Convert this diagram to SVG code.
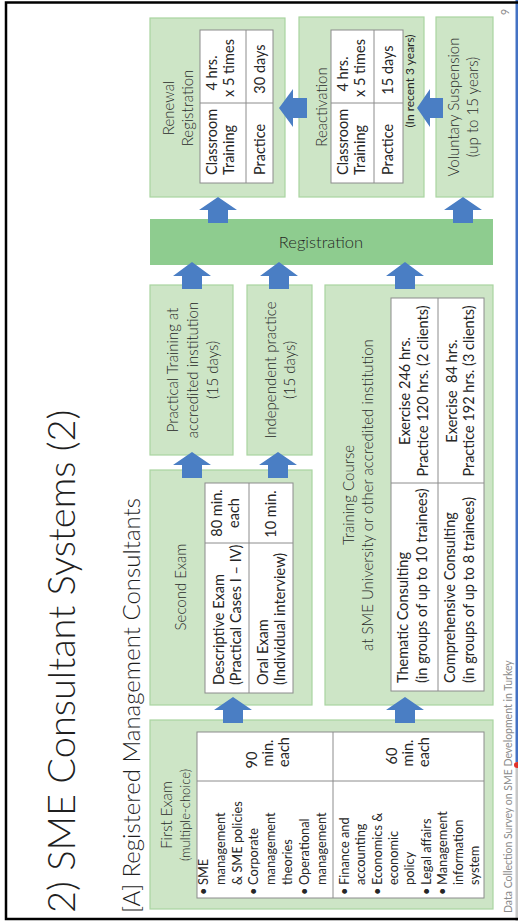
<svg xmlns="http://www.w3.org/2000/svg" width="518" height="921" viewBox="0 0 518 921">
  <style>
    .box { fill: #CDE5C6; stroke: #A9D4A0; stroke-width: 1.2; }
    .bar { fill: #8ECC8F; }
    .cell { fill: #FFFFFF; stroke: #8C8C8C; stroke-width: 1; }
    .rule { stroke: #8C8C8C; stroke-width: 1; fill: none; }
    .arrow { fill: #4A7EC4; }
    text { font-family: Lato, "Open Sans", "Liberation Sans", sans-serif; fill: #262626; }
    .title { font-size: 38px; font-weight: 300; fill: #1F1F1F; }
    .sub { font-size: 24px; font-weight: 300; fill: #1F1F1F; }
    .hd { font-size: 15px; font-weight: 300; fill: #2A2A2A; }
    .hds { font-size: 13px; font-weight: 300; fill: #2A2A2A; }
    .reg { font-size: 16.5px; font-weight: 300; fill: #262626; text-anchor: middle; }
    .tb { font-size: 14.5px; }
    .bl { font-size: 12.8px; }
    .sm { font-size: 12px; }
    .mid { text-anchor: middle; }
    .foot { font-size: 10.5px; fill: #8B8B8B; }
  </style>

  <rect width="518" height="921" fill="#FFFFFF"/>

  <!-- slide drawn in landscape coordinates, turned a quarter-turn -->
  <g transform="matrix(0,-1,1,0,0,921)">
    <text class="title" x="8" y="75">2) SME Consultant Systems (2)</text>
    <text class="sub" x="8" y="140">[A] Registered Management Consultants</text>

    <!-- First exam -->
    <g id="first-exam">
      <rect class="box" x="12" y="150" width="189" height="343"/>
      <text class="hd mid" x="106" y="172">First Exam</text>
      <text class="hds mid" x="106" y="190">(multiple-choice)</text>
      <rect class="cell" x="23" y="197" width="166" height="287"/>
      <path class="rule" d="M140,197 V484 M23,333 H189"/>
      <g class="bl">
        <text x="26" y="208">•</text><text x="36" y="208">SME</text>
        <text x="36" y="224.8">management</text>
        <text x="36" y="241.6">&amp; SME policies</text>
        <text x="26" y="258.4">•</text><text x="36" y="258.4">Corporate</text>
        <text x="36" y="275.2">management</text>
        <text x="36" y="292">theories</text>
        <text x="26" y="308.8">•</text><text x="36" y="308.8">Operational</text>
        <text x="36" y="325.6">management</text>

        <text x="26" y="349">•</text><text x="36" y="349">Finance and</text>
        <text x="36" y="365.3">accounting</text>
        <text x="26" y="381.6">•</text><text x="36" y="381.6">Economics &amp;</text>
        <text x="36" y="397.9">economic</text>
        <text x="36" y="414.2">policy</text>
        <text x="26" y="430.5">•</text><text x="36" y="430.5">Legal affairs</text>
        <text x="26" y="446.8">•</text><text x="36" y="446.8">Management</text>
        <text x="36" y="463.1">information</text>
        <text x="36" y="479.4">system</text>
      </g>
      <g class="tb mid">
        <text x="161" y="257">90</text>
        <text x="168" y="273">min.</text>
        <text x="169" y="289">each</text>
        <text x="165" y="397">60</text>
        <text x="168" y="413">min.</text>
        <text x="169" y="429">each</text>
      </g>
    </g>

    <!-- Second exam -->
    <g id="second-exam">
      <rect class="box" x="216" y="150" width="235" height="162"/>
      <text class="hd mid" x="334" y="186">Second Exam</text>
      <rect class="cell" x="228" y="205" width="210" height="88"/>
      <path class="rule" d="M378,205 V293 M228,249 H438"/>
      <g class="tb">
        <text x="236" y="224">Descriptive Exam</text>
        <text x="236" y="241">(Practical Cases I – IV)</text>
        <text x="236" y="268">Oral Exam</text>
        <text x="236" y="285">(Individual interview)</text>
      </g>
      <g class="tb mid">
        <text x="408" y="222">80 min.</text>
        <text x="408" y="239">each</text>
        <text x="407" y="276">10 min.</text>
      </g>
    </g>

    <!-- Training course -->
    <g id="training-course">
      <rect class="box" x="216" y="325" width="420" height="168"/>
      <text class="hd mid" x="426" y="354">Training Course</text>
      <text class="hd mid" x="426" y="373">at SME University or other accredited institution</text>
      <rect class="cell" x="230" y="391" width="393" height="93"/>
      <path class="rule" d="M438,391 V484 M230,438 H623"/>
      <g class="tb">
        <text x="238" y="408">Thematic Consulting</text>
        <text x="238" y="427">(in groups of up to 10 trainees)</text>
        <text x="238" y="455">Comprehensive Consulting</text>
        <text x="238" y="474">(in groups of up to 8 trainees)</text>
      </g>
      <g class="tb mid">
        <text x="530" y="410">Exercise 246 hrs.</text>
        <text x="530" y="428">Practice 120 hrs. (2 clients)</text>
        <text x="530" y="457" xml:space="preserve">Exercise  84 hrs.</text>
        <text x="530" y="474">Practice 192 hrs. (3 clients)</text>
      </g>
    </g>

    <!-- Practical training -->
    <g id="practical-training">
      <rect class="box" x="466" y="150" width="170" height="83"/>
      <g class="hd mid">
        <text x="551" y="178">Practical Training at</text>
        <text x="551" y="198">accredited institution</text>
        <text x="551" y="218">(15 days)</text>
      </g>
    </g>

    <!-- Independent practice -->
    <g id="independent-practice">
      <rect class="box" x="466" y="247" width="170" height="65"/>
      <g class="hd mid">
        <text x="551" y="276">Independent practice</text>
        <text x="551" y="295">(15 days)</text>
      </g>
    </g>

    <!-- Registration bar (its label is set upright, below) -->
    <g id="registration">
      <rect class="bar" x="656" y="150" width="46" height="343"/>
    </g>

    <!-- Renewal registration -->
    <g id="renewal">
      <rect class="box" x="724" y="150" width="179" height="135"/>
      <text class="hd mid" x="813" y="174">Renewal</text>
      <text class="hd mid" x="813" y="193">Registration</text>
      <rect class="cell" x="738" y="200" width="153" height="73"/>
      <path class="rule" d="M818,200 V273 M738,246 H891"/>
      <g class="tb">
        <text x="746" y="217">Classroom</text>
        <text x="746" y="234">Training</text>
        <text x="746" y="265">Practice</text>
      </g>
      <g class="tb mid">
        <text x="848" y="217">4 hrs.</text>
        <text x="853" y="234">x 5 times</text>
        <text x="852" y="265">30 days</text>
      </g>
    </g>

    <!-- Reactivation -->
    <g id="reactivation">
      <rect class="box" x="724" y="299" width="180" height="125"/>
      <text class="hd mid" x="814" y="327">Reactivation</text>
      <rect class="cell" x="738" y="331" width="153" height="72"/>
      <path class="rule" d="M818,331 V403 M738,374 H891"/>
      <g class="tb">
        <text x="746" y="348">Classroom</text>
        <text x="746" y="365">Training</text>
        <text x="746" y="393">Practice</text>
      </g>
      <g class="tb mid">
        <text x="847" y="348">4 hrs.</text>
        <text x="853" y="365">x 5 times</text>
        <text x="851" y="393">15 days</text>
      </g>
      <text class="sm mid" x="840" y="414">(In recent 3 years)</text>
    </g>

    <!-- Voluntary suspension -->
    <g id="voluntary-suspension">
      <rect class="box" x="724" y="436" width="180" height="57"/>
      <text class="hd mid" x="814" y="459">Voluntary Suspension</text>
      <text class="hd mid" x="814" y="478">(up to 15 years)</text>
    </g>

    <!-- flow arrows -->
    <g id="connectors">
      <path class="arrow" d="M198,223 H211 V214 L224,233 L211,252 V243 H198 Z"/>
      <path class="arrow" d="M198,395 H211 V386 L224,405 L211,424 V415 H198 Z"/>
      <path class="arrow" d="M443,182 H456 V173 L469,192 L456,211 V202 H443 Z"/>
      <path class="arrow" d="M443,268 H456 V259 L469,278 L456,297 V288 H443 Z"/>
      <path class="arrow" d="M632,182 H645 V173 L659,192 L645,211 V202 H632 Z"/>
      <path class="arrow" d="M632,269 H645 V260 L659,279 L645,298 V289 H632 Z"/>
      <path class="arrow" d="M632,395 H645 V386 L659,405 L645,424 V415 H632 Z"/>
      <path class="arrow" d="M698,208 H711 V199 L724,218 L711,237 V228 H698 Z"/>
      <path class="arrow" d="M698,453 H711 V444 L724,463 L711,482 V473 H698 Z"/>
      <path class="arrow" d="M803,307 V293 H794 L813,279 L832,293 H823 V307 Z"/>
      <path class="arrow" d="M803,443 V430 H794 L813,417 L832,430 H823 V443 Z"/>
    </g>

    <!-- footer -->
    <text class="foot" x="8" y="512">Data Collection Survey on SME Development in Turkey</text>
    <text class="foot" x="906" y="509">9</text>
    <rect x="0" y="515.5" width="153" height="3" fill="#C8C8C8"/>
    <rect x="159" y="515.5" width="762" height="3.5" fill="#4472C4"/>
    <circle cx="156" cy="517" r="3" fill="#E0322B"/>
  </g>

  <!-- upright label of the registration bar -->
  <text class="reg" x="321" y="248">Registration</text>

  <!-- page frame -->
  <rect x="6" y="2.5" width="516" height="916.5" fill="none" stroke="#000000" stroke-width="2.5"/>
</svg>
